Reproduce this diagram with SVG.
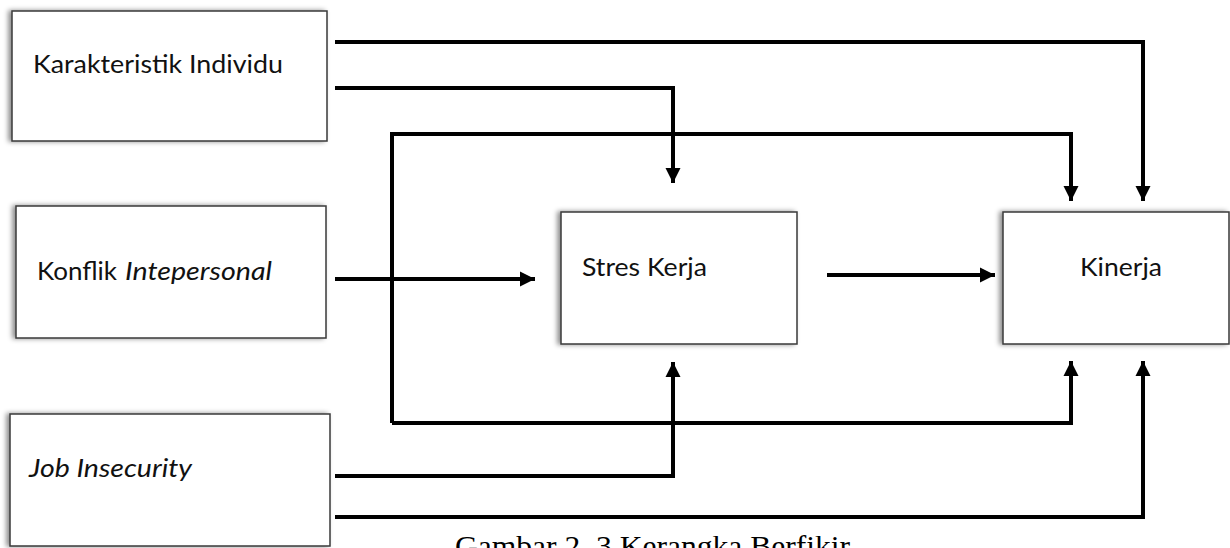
<svg xmlns="http://www.w3.org/2000/svg" width="1230" height="548" viewBox="0 0 1230 548">
<style>
.box{fill:#fff;stroke:#3a3a3a;stroke-width:1.5;filter:url(#sh)}
.lbl{font-family:Lato,"Open Sans","Liberation Sans",sans-serif;font-size:25px;fill:#111}
.it{font-style:italic}
.conn path{fill:none;stroke:#000;stroke-width:4;stroke-linejoin:miter;stroke-linecap:butt}
.arr{marker-end:url(#ah)}
.cap{font-family:"Liberation Serif","Times New Roman",serif;font-size:30px;fill:#000}
</style>
<defs>
<filter id="sh" x="-10%" y="-15%" width="120%" height="130%">
<feDropShadow dx="-3" dy="0" stdDeviation="2.5" flood-color="#000" flood-opacity="0.45"/>
</filter>
<marker id="ah" markerUnits="userSpaceOnUse" markerWidth="16" markerHeight="16" viewBox="0 0 16 16" refX="15" refY="8" orient="auto">
<path d="M0,0.5 L15,8 L0,15.5 Z" fill="#000"/>
</marker>
</defs>
<rect width="1230" height="548" fill="#fff"/>
<g id="karakteristik">
<rect class="box" x="12" y="11" width="315" height="130"/>
<text class="lbl" x="33" y="73" textLength="250" lengthAdjust="spacingAndGlyphs">Karakteristik Individu</text>
</g>
<g id="konflik">
<rect class="box" x="16" y="206" width="310" height="132"/>
<text class="lbl" x="37" y="280"><tspan textLength="80" lengthAdjust="spacingAndGlyphs">Konflik</tspan><tspan class="it" x="125" textLength="147" lengthAdjust="spacingAndGlyphs">Intepersonal</tspan></text>
</g>
<g id="job">
<rect class="box" x="10" y="414" width="320" height="132"/>
<text class="lbl it" x="29" y="477" textLength="163" lengthAdjust="spacingAndGlyphs">Job Insecurity</text>
</g>
<g id="stres">
<rect class="box" x="561" y="212" width="236" height="132"/>
<text class="lbl" x="582" y="276" textLength="125" lengthAdjust="spacingAndGlyphs">Stres Kerja</text>
</g>
<g id="kinerja">
<rect class="box" x="1003" y="212" width="226" height="132"/>
<text class="lbl" x="1080" y="276" textLength="82" lengthAdjust="spacingAndGlyphs">Kinerja</text>
</g>
<g id="connectors" class="conn">
<path class="arr" d="M335,42 H1143 V201"/>
<path class="arr" d="M335,88 H673 V183"/>
<path class="arr" d="M335,279 H535"/>
<path class="arr" d="M392,423 V134 H1071 V201"/>
<path class="arr" d="M392,423 H1071 V361"/>
<path class="arr" d="M827,275 H995"/>
<path class="arr" d="M335,476 H673 V362"/>
<path class="arr" d="M335,517 H1143 V361"/>
</g>
<text class="cap" x="455" y="556" textLength="395" lengthAdjust="spacingAndGlyphs">Gambar 2. 3 Kerangka Berfikir</text>
</svg>
